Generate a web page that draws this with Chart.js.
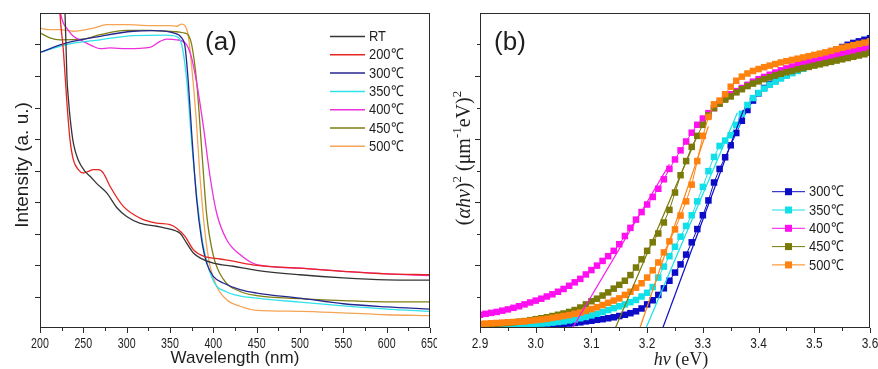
<!DOCTYPE html>
<html>
<head>
<meta charset="utf-8">
<script src="https://cdn.jsdelivr.net/npm/chart.js@4.4.0/dist/chart.umd.min.js"></script>
<style>
  html, body { margin: 0; padding: 0; background: #fff; }
  #wrap { position: relative; width: 878px; height: 369px; overflow: hidden; background: #fff; }
  #chartA { position: absolute; left: 0; top: 0; }
  #chartB { position: absolute; left: 437px; top: 0; }
</style>
</head>
<body>
<div id="wrap">
  <canvas id="chartA" width="437" height="369"></canvas>
  <canvas id="chartB" width="441" height="369"></canvas>
</div>
<script>
// --- Panel (a): UV-vis spectra ---
const wlTicks = [200, 250, 300, 350, 400, 450, 500, 550, 600, 650];
const intensityTicks = [1, 2, 3, 4, 5, 6, 7, 8, 9];
const labelsA = ['RT', '200℃', '300℃', '350℃', '400℃', '450℃', '500℃'];
const colorsA = ['#353535', '#e52520', '#26268f', '#30e2ea', '#ee30dc', '#7d7d12', '#f5a455'];

const rtX = [222, 228.5, 230, 231, 233, 235, 238.5, 244, 252, 258, 265, 277, 289, 300, 315, 335, 350, 357, 362, 369, 377, 385, 400, 423, 450, 500, 550, 600, 650];
const rtY = [14, 10.3, 9.0, 8.0, 7.2, 6.6, 5.87, 5.34, 4.97, 4.81, 4.6, 4.29, 3.81, 3.54, 3.33, 3.23, 3.14, 3.08, 3.0, 2.70, 2.38, 2.22, 2.06, 1.96, 1.83, 1.69, 1.59, 1.53, 1.52];

const x200 = [220, 223, 226.9, 230.8, 234.6, 238.5, 244.2, 250, 255.8, 261.5, 267.3, 273.1, 280.8, 296.2, 315.4, 334.6, 350, 357.7, 367.3, 376.9, 388.5, 407.7, 423, 450, 500, 550, 600, 650];
const y200 = [12, 10.0, 8.84, 7.25, 5.98, 5.34, 5.03, 4.92, 4.97, 5.03, 5.03, 4.92, 4.50, 3.86, 3.49, 3.33, 3.28, 3.17, 2.91, 2.49, 2.28, 2.19, 2.12, 1.99, 1.90, 1.80, 1.72, 1.69];

const x300 = [200, 230.8, 269.2, 307.7, 330.8, 353.8, 363.5, 367.3, 371.2, 375, 380.8, 386.5, 392.3, 400, 411.5, 430.8, 450, 500, 550, 600, 650];
const y300 = [8.75, 9.05, 9.26, 9.42, 9.44, 9.37, 9.21, 8.94, 7.78, 6.19, 4.07, 2.80, 2.06, 1.64, 1.43, 1.22, 1.11, 0.95, 0.77, 0.67, 0.60];

const x350 = [200, 230.8, 269.2, 307.7, 346, 357.7, 363.5, 369.2, 375, 380.8, 388.5, 400, 415, 430, 450, 500, 550, 600, 650];
const y350 = [8.75, 9.0, 9.15, 9.28, 9.30, 9.25, 9.0, 7.9, 5.9, 4.2, 2.6, 1.5, 1.15, 1.02, 0.95, 0.82, 0.70, 0.60, 0.53];

const x400 = [221, 223, 226.9, 230.8, 238.5, 250, 261.5, 269.2, 280.8, 300, 326.9, 338.5, 346.2, 357.7, 369.2, 375, 380.8, 388.5, 396.2, 403.8, 415.4, 430.8, 450, 500, 550, 600, 650];
const y400 = [10.6, 10.1, 9.68, 9.52, 9.26, 9.10, 8.94, 8.87, 8.89, 8.87, 8.91, 9.10, 9.17, 9.15, 8.99, 8.57, 7.78, 6.40, 4.81, 3.65, 2.80, 2.33, 2.01, 1.90, 1.80, 1.72, 1.66];

const x450 = [200, 211.5, 223, 250, 269.2, 300, 326.9, 346.2, 361.5, 367.3, 371.2, 375, 380.8, 386.5, 392.3, 400, 411.5, 430.8, 450, 500, 550, 600, 650];
const y450 = [9.37, 9.21, 9.15, 9.17, 9.31, 9.45, 9.45, 9.42, 9.39, 9.36, 9.3, 9.0, 7.8, 5.7, 3.6, 2.3, 1.55, 1.16, 1.03, 0.93, 0.87, 0.83, 0.83];

const x500 = [200, 211.5, 223, 238.5, 261.5, 276.9, 300, 326.9, 350, 357.7, 363.5, 367.3, 371.2, 375, 380, 384.6, 390.4, 396.2, 403.8, 415.4, 430.8, 450, 500, 550, 600, 650];
const y500 = [9.52, 9.47, 9.47, 9.42, 9.52, 9.63, 9.63, 9.60, 9.60, 9.58, 9.65, 9.60, 9.26, 8.31, 6.72, 4.81, 3.02, 1.96, 1.32, 0.90, 0.69, 0.56, 0.53, 0.48, 0.42, 0.39];

const seriesA = [[rtX, rtY], [x200, y200], [x300, y300], [x350, y350], [x400, y400], [x450, y450], [x500, y500]];

// --- Panel (b): Tauc plot ---
const evTicks = [2.9, 3.0, 3.1, 3.2, 3.3, 3.4, 3.5, 3.6];
const evTickLabels = ['2.9', '3.0', '3.1', '3.2', '3.3', '3.4', '3.5', '3.6'];
const taucMajor = [2, 4, 6, 8];
const taucMinor = [1, 3, 5, 7, 9];
const labelsB = ['300℃', '350℃', '400℃', '450℃', '500℃'];
const colorsB = ['#0c0cc8', '#12e0e8', '#ff10f0', '#7a7a08', '#ff8210'];

const energy = [
  2.90, 2.91, 2.92, 2.93, 2.94, 2.95, 2.96, 2.97, 2.98, 2.99,
  3.00, 3.01, 3.02, 3.03, 3.04, 3.05, 3.06, 3.07, 3.08, 3.09,
  3.10, 3.11, 3.12, 3.13, 3.14, 3.15, 3.16, 3.17, 3.18, 3.19,
  3.20, 3.21, 3.22, 3.23, 3.24, 3.25, 3.26, 3.27, 3.28, 3.29,
  3.30, 3.31, 3.32, 3.33, 3.34, 3.35, 3.36, 3.37, 3.38, 3.39,
  3.40, 3.41, 3.42, 3.43, 3.44, 3.45, 3.46, 3.47, 3.48, 3.49,
  3.50, 3.51, 3.52, 3.53, 3.54, 3.55, 3.56, 3.57, 3.58, 3.59,
  3.60
];
const tauc300 = [
  0.02, 0.02, 0.02, 0.03, 0.03, 0.03, 0.04, 0.04, 0.05, 0.05,
  0.06, 0.07, 0.08, 0.09, 0.10, 0.12, 0.14, 0.16, 0.18, 0.21,
  0.23, 0.26, 0.28, 0.31, 0.34, 0.38, 0.42, 0.47, 0.53, 0.62,
  0.75, 0.88, 1.05, 1.26, 1.50, 1.76, 2.02, 2.33, 2.72, 3.14,
  3.58, 4.05, 4.62, 5.05, 5.42, 5.80, 6.19, 6.58, 6.92, 7.22,
  7.45, 7.62, 7.75, 7.86, 7.95, 8.03, 8.11, 8.19, 8.27, 8.36,
  8.45, 8.55, 8.65, 8.75, 8.84, 8.92, 8.99, 9.05, 9.10, 9.15,
  9.20
];
const tauc350 = [
  0.05, 0.05, 0.06, 0.06, 0.07, 0.08, 0.09, 0.10, 0.11, 0.12,
  0.13, 0.14, 0.15, 0.17, 0.19, 0.21, 0.24, 0.27, 0.31, 0.35,
  0.40, 0.45, 0.51, 0.57, 0.63, 0.69, 0.75, 0.82, 0.89, 1.00,
  1.12, 1.30, 1.60, 1.95, 2.28, 2.58, 2.90, 3.24, 3.58, 4.02,
  4.48, 4.98, 5.43, 5.78, 5.95, 6.12, 6.45, 6.80, 7.08, 7.30,
  7.46, 7.60, 7.72, 7.82, 7.92, 8.01, 8.09, 8.16, 8.23, 8.30,
  8.36, 8.42, 8.48, 8.53, 8.58, 8.63, 8.68, 8.73, 8.78, 8.83,
  8.88
];
const tauc400 = [
  0.42, 0.45, 0.48, 0.51, 0.55, 0.59, 0.64, 0.69, 0.75, 0.81,
  0.87, 0.93, 1.00, 1.07, 1.15, 1.24, 1.34, 1.45, 1.56, 1.70,
  1.84, 1.98, 2.13, 2.28, 2.45, 2.66, 2.92, 3.18, 3.44, 3.68,
  3.92, 4.16, 4.42, 4.72, 5.05, 5.35, 5.64, 5.92, 6.20, 6.45,
  6.65, 6.82, 6.98, 7.12, 7.28, 7.42, 7.52, 7.62, 7.72, 7.82,
  7.90, 7.97, 8.04, 8.11, 8.18, 8.24, 8.30, 8.36, 8.41, 8.46,
  8.51, 8.55, 8.59, 8.63, 8.67, 8.71, 8.75, 8.79, 8.83, 8.87,
  8.91
];
const tauc450 = [
  0.10, 0.11, 0.12, 0.13, 0.15, 0.16, 0.18, 0.20, 0.22, 0.25,
  0.28, 0.31, 0.34, 0.38, 0.42, 0.46, 0.51, 0.57, 0.65, 0.75,
  0.85, 0.93, 1.03, 1.13, 1.25, 1.37, 1.50, 1.68, 1.92, 2.18,
  2.45, 2.72, 3.00, 3.35, 3.75, 4.30, 4.85, 5.30, 5.75, 6.10,
  6.45, 6.75, 6.98, 7.12, 7.25, 7.35, 7.48, 7.58, 7.68, 7.76,
  7.83, 7.90, 7.96, 8.02, 8.07, 8.12, 8.16, 8.21, 8.25, 8.29,
  8.33, 8.37, 8.41, 8.45, 8.49, 8.53, 8.57, 8.61, 8.65, 8.69,
  8.74
];
const tauc500 = [
  0.13, 0.14, 0.15, 0.16, 0.17, 0.18, 0.19, 0.20, 0.21, 0.23,
  0.25, 0.27, 0.29, 0.32, 0.35, 0.38, 0.41, 0.45, 0.49, 0.54,
  0.60, 0.66, 0.73, 0.80, 0.87, 0.94, 1.05, 1.15, 1.28, 1.42,
  1.60, 1.83, 2.08, 2.40, 2.75, 3.13, 3.57, 4.02, 4.55, 5.30,
  6.10, 6.70, 7.10, 7.22, 7.42, 7.66, 7.85, 7.98, 8.08, 8.16,
  8.22, 8.28, 8.33, 8.38, 8.43, 8.47, 8.51, 8.55, 8.59, 8.63,
  8.67, 8.71, 8.75, 8.80, 8.85, 8.90, 8.94, 8.98, 9.02, 9.06,
  9.10
];
const seriesB = [tauc300, tauc350, tauc400, tauc450, tauc500];

// linear fits (band-gap extrapolation), two end points each
const fitX = [[3.228, 3.373], [3.198, 3.362], [3.066, 3.24], [3.143, 3.29], [3.187, 3.31]];
const fitY = [[0, 6.93], [0, 6.83], [0, 5.2], [0, 6.1], [0, 6.4]];

// --- drawing helpers ---
const SANS = '"Liberation Sans", Arial, sans-serif';
const SERIF = '"Liberation Serif", "Times New Roman", serif';
const INK = '#1e1e1e';

function narrowText(ctx, str, x, y, font, align, sx) {
  ctx.save();
  ctx.font = font;
  ctx.translate(x, y);
  ctx.scale(sx, 1);
  ctx.textAlign = align;
  ctx.textBaseline = 'middle';
  ctx.fillStyle = INK;
  ctx.fillText(str, 0, 0);
  ctx.restore();
}

function drawFrame(ctx, a, sx, sy, xMajor, yMajor, yMinor) {
  ctx.save();
  ctx.strokeStyle = '#2a2a2a';
  ctx.lineWidth = 1;
  ctx.strokeRect(a.left + 0.5, a.top + 0.5, a.right - a.left - 1, a.bottom - a.top - 1);
  ctx.beginPath();
  xMajor.forEach((v, i) => {
    const px = Math.round(sx.getPixelForValue(v)) + 0.5;
    ctx.moveTo(px, a.bottom); ctx.lineTo(px, a.bottom + 5);
    if (i < xMajor.length - 1) {
      const pm = Math.round(sx.getPixelForValue((v + xMajor[i + 1]) / 2)) + 0.5;
      ctx.moveTo(pm, a.bottom); ctx.lineTo(pm, a.bottom + 3);
    }
  });
  yMajor.forEach(v => {
    const py = Math.round(sy.getPixelForValue(v)) + 0.5;
    ctx.moveTo(a.left, py); ctx.lineTo(a.left - 5, py);
  });
  yMinor.forEach(v => {
    const py = Math.round(sy.getPixelForValue(v)) + 0.5;
    ctx.moveTo(a.left, py); ctx.lineTo(a.left - 3, py);
  });
  ctx.stroke();
  ctx.restore();
}

function richVertical(ctx, cx, cy, parts) {
  let total = 0;
  parts.forEach(p => { ctx.font = p.font; p.w = ctx.measureText(p.t).width; total += p.w; });
  ctx.save();
  ctx.translate(cx, cy);
  ctx.rotate(-Math.PI / 2);
  ctx.fillStyle = INK;
  ctx.textBaseline = 'alphabetic';
  ctx.textAlign = 'left';
  let x = -total / 2;
  parts.forEach(p => { ctx.font = p.font; ctx.fillText(p.t, x, p.dy); x += p.w; });
  ctx.restore();
}

function richLine(ctx, cx, y, parts) {
  let total = 0;
  parts.forEach(p => { ctx.font = p.font; p.w = ctx.measureText(p.t).width; total += p.w; });
  ctx.save();
  ctx.fillStyle = INK;
  ctx.textBaseline = 'alphabetic';
  ctx.textAlign = 'left';
  let x = cx - total / 2;
  parts.forEach(p => { ctx.font = p.font; ctx.fillText(p.t, x, y); x += p.w; });
  ctx.restore();
}

// --- panel (a) chart ---
const decorA = {
  id: 'decorA',
  afterDraw(chart) {
    const { ctx, chartArea: a, scales: { x, y } } = chart;
    drawFrame(ctx, a, x, y, wlTicks, intensityTicks, []);
    wlTicks.forEach(v => narrowText(ctx, String(v), x.getPixelForValue(v), 344, '14px ' + SANS, 'center', 0.76));

    ctx.save();
    ctx.fillStyle = INK;
    ctx.font = '17px ' + SANS;
    ctx.textAlign = 'center';
    ctx.textBaseline = 'alphabetic';
    ctx.fillText('Wavelength (nm)', 235, 363);
    ctx.translate(28, 165);
    ctx.rotate(-Math.PI / 2);
    ctx.font = '19px ' + SANS;
    ctx.fillText('Intensity (a. u.)', 0, 0);
    ctx.restore();

    ctx.save();
    ctx.fillStyle = INK;
    ctx.font = '26px ' + SANS;
    ctx.textAlign = 'center';
    ctx.textBaseline = 'middle';
    ctx.fillText('(a)', 221, 43);
    ctx.restore();

    labelsA.forEach((lab, i) => {
      const ly = 36.5 + i * 18.3;
      ctx.save();
      ctx.strokeStyle = colorsA[i];
      ctx.lineWidth = 1.5;
      ctx.beginPath(); ctx.moveTo(330, ly); ctx.lineTo(365, ly); ctx.stroke();
      ctx.restore();
      narrowText(ctx, lab, 369, ly + 0.5, '15px ' + SANS, 'left', 0.86);
    });
  }
};

new Chart(document.getElementById('chartA'), {
  type: 'line',
  data: {
    datasets: seriesA.map((s, i) => ({
      label: labelsA[i],
      data: s[0].map((xv, k) => ({ x: xv, y: s[1][k] })),
      borderColor: colorsA[i],
      borderWidth: 1.3,
      pointRadius: 0,
      cubicInterpolationMode: 'monotone',
      fill: false,
      clip: 0
    }))
  },
  options: {
    responsive: false,
    animation: false,
    devicePixelRatio: 1,
    events: [],
    layout: { padding: { left: 40, right: 7, top: 13, bottom: 41 } },
    scales: {
      x: { type: 'linear', min: 200, max: 650, display: false },
      y: { type: 'linear', min: 0, max: 10, display: false }
    },
    plugins: { legend: { display: false }, tooltip: { enabled: false } }
  },
  plugins: [decorA]
});

// --- panel (b) chart ---
const decorB = {
  id: 'decorB',
  afterDraw(chart) {
    const { ctx, chartArea: a, scales: { x, y } } = chart;
    drawFrame(ctx, a, x, y, evTicks, taucMajor, taucMinor);
    evTicks.forEach((v, i) => narrowText(ctx, evTickLabels[i], x.getPixelForValue(v), 344, '14px ' + SANS, 'center', 0.85));

    richLine(ctx, 244, 365, [
      { t: 'hν', font: 'italic 18px ' + SERIF },
      { t: ' (eV)', font: '18px ' + SERIF }
    ]);
    richVertical(ctx, 33, 158, [
      { t: '(', font: '20px ' + SERIF, dy: 0 },
      { t: 'αhν', font: 'italic 20px ' + SERIF, dy: 0 },
      { t: ')', font: '20px ' + SERIF, dy: 0 },
      { t: '2', font: '13px ' + SERIF, dy: -9 },
      { t: ' (μm', font: '20px ' + SERIF, dy: 0 },
      { t: '-1', font: '13px ' + SERIF, dy: -9 },
      { t: 'eV)', font: '20px ' + SERIF, dy: 0 },
      { t: '2', font: '13px ' + SERIF, dy: -9 }
    ]);

    ctx.save();
    ctx.fillStyle = INK;
    ctx.font = '26px ' + SANS;
    ctx.textAlign = 'center';
    ctx.textBaseline = 'middle';
    ctx.fillText('(b)', 73, 43);
    ctx.restore();

    labelsB.forEach((lab, i) => {
      const ly = 191.7 + i * 18.3;
      ctx.save();
      ctx.strokeStyle = colorsB[i];
      ctx.fillStyle = colorsB[i];
      ctx.lineWidth = 1;
      ctx.beginPath(); ctx.moveTo(335, ly); ctx.lineTo(368, ly); ctx.stroke();
      ctx.fillRect(348, ly - 3.5, 7, 7);
      ctx.restore();
      narrowText(ctx, lab, 372, ly + 0.5, '15px ' + SANS, 'left', 0.86);
    });
  }
};

const dataB = seriesB.map((vals, i) => ({
  label: labelsB[i],
  data: energy.map((e, k) => ({ x: e, y: vals[k] })),
  borderColor: colorsB[i],
  backgroundColor: colorsB[i],
  borderWidth: 1,
  pointStyle: 'rect',
  pointRadius: 4.6,
  pointBorderWidth: 0,
  pointBackgroundColor: colorsB[i],
  tension: 0,
  clip: 0,
  order: 5 - i
}));
const fitsB = fitX.map((fx, i) => ({
  label: 'fit ' + labelsB[i],
  data: fx.map((xv, k) => ({ x: xv, y: fitY[i][k] })),
  borderColor: colorsB[i],
  borderWidth: 1.2,
  pointRadius: 0,
  tension: 0,
  clip: 0,
  order: 0
}));

new Chart(document.getElementById('chartB'), {
  type: 'line',
  data: { datasets: dataB.concat(fitsB) },
  options: {
    responsive: false,
    animation: false,
    devicePixelRatio: 1,
    events: [],
    layout: { padding: { left: 43, right: 8, top: 13, bottom: 41 } },
    scales: {
      x: { type: 'linear', min: 2.9, max: 3.6, display: false },
      y: { type: 'linear', min: 0, max: 10, display: false }
    },
    plugins: { legend: { display: false }, tooltip: { enabled: false } }
  },
  plugins: [decorB]
});
</script>
</body>
</html>
